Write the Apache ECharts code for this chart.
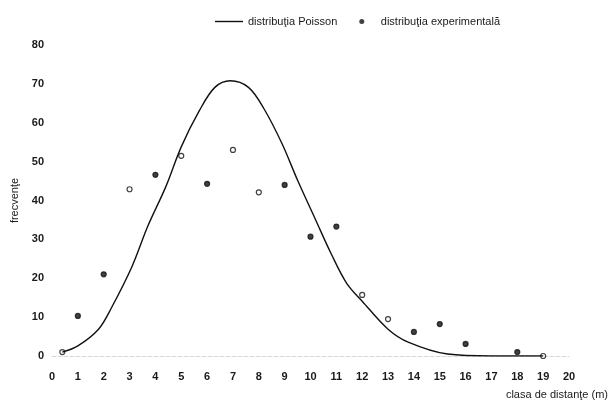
<!DOCTYPE html>
<html>
<head>
<meta charset="utf-8">
<script src="https://cdn.jsdelivr.net/npm/echarts@6/dist/echarts.min.js"></script>
<style>
html,body{margin:0;padding:0;background:#fff;}
#c{width:610px;height:411px;}
</style>
</head>
<body>
<div id="c"></div>
<script>
// ---- data ----
const seriesNames = ['distribuţia Poisson', 'distribuţia experimentală'];
const poissonX = [0.4, 1, 1.8, 2.3, 3.1, 3.7, 4.4, 5, 5.7, 6.3, 6.9, 7.6, 8.2, 8.9, 9.5, 10.2, 10.8, 11.4, 12, 13, 13.8, 15.3, 17, 19];
const poissonY = [1, 2.6, 6.9, 12.4, 23.1, 33.3, 43.5, 53.8, 63.1, 69.1, 70.8, 69.1, 63.6, 54.6, 45.2, 35, 26.3, 18.7, 14.1, 6.9, 3.5, 0.5, 0, 0];
const expX = [0.4, 1, 2, 3, 4, 5, 6, 7, 8, 9, 10, 11, 12, 13, 14, 15, 16, 18, 19];
const expY = [1, 10.3, 21, 42.9, 46.6, 51.5, 44.3, 53, 42.1, 44, 30.7, 33.3, 15.7, 9.5, 6.2, 8.2, 3.1, 1, 0];
const xName = 'clasa de distanţe (m)';
const yName = 'frecvenţe';

// ---- chart ----
const font = '"Liberation Sans Narrow", "Liberation Sans", Arial, sans-serif';
const hollowIdx = new Set([0, 3, 5, 7, 8, 12, 13, 18]);
const chart = echarts.init(document.getElementById('c'), null, {renderer: 'canvas'});
chart.setOption({
  backgroundColor: '#ffffff',
  animation: false,
  textStyle: {fontFamily: font, color: '#1a1a1a'},
  legend: {
    left: 210, top: 11,
    itemGap: 22,
    itemWidth: 28, itemHeight: 5,
    symbolKeepAspect: true,
    textStyle: {fontFamily: font, fontSize: 11, color: '#1a1a1a'},
    data: [
      {name: seriesNames[0], icon: 'path://M0,0L28,0L28,1.4L0,1.4Z', itemStyle: {color: '#111', borderWidth: 0}},
      {name: seriesNames[1], icon: 'circle', itemStyle: {color: '#111', borderWidth: 0}}
    ]
  },
  grid: {left: 52, right: 41, top: 45, bottom: 55},
  xAxis: {
    type: 'value', min: 0, max: 20, interval: 1,
    axisLine: {show: true, lineStyle: {color: '#d8d8d8', type: 'dashed', width: 1}},
    axisTick: {show: false},
    splitLine: {show: false},
    axisLabel: {margin: 15, fontSize: 11, fontWeight: 'bold', color: '#1a1a1a', fontFamily: font}
  },
  yAxis: {
    type: 'value', min: 0, max: 80, interval: 10,
    name: yName, nameLocation: 'middle', nameGap: 30,
    nameTextStyle: {fontSize: 11, color: '#1a1a1a', fontFamily: font},
    axisLine: {show: false},
    axisTick: {show: false},
    splitLine: {show: false},
    axisLabel: {margin: 8, fontSize: 11, fontWeight: 'bold', color: '#1a1a1a', fontFamily: font}
  },
  graphic: [{
    type: 'text', right: 2, top: 389,
    style: {text: xName, fontSize: 11, fill: '#1a1a1a', fontFamily: font}
  }],
  series: [
    {
      name: seriesNames[0], type: 'line', smooth: 0.35, symbol: 'none',
      lineStyle: {color: '#111', width: 1.4},
      itemStyle: {color: '#111'},
      data: poissonX.map((x, i) => [x, poissonY[i]])
    },
    {
      name: seriesNames[1], type: 'scatter', symbol: 'circle', symbolSize: 5,
      itemStyle: {
        color: (p) => hollowIdx.has(p.dataIndex) ? '#ffffff' : '#111',
        borderColor: '#111', borderWidth: 1.2
      },
      data: expX.map((x, i) => [x, expY[i]])
    }
  ]
});
</script>
</body>
</html>
